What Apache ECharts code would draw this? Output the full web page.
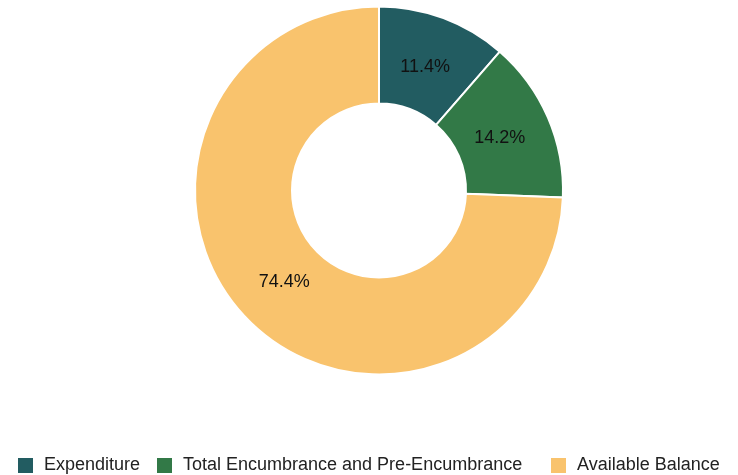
<!DOCTYPE html>
<html>
<head>
<meta charset="utf-8">
<script src="https://cdn.jsdelivr.net/npm/echarts@6/dist/echarts.min.js"></script>
<style>
  html, body { margin: 0; padding: 0; background: #fff; }
  #chart { width: 738px; height: 475px; }
</style>
</head>
<body>
<div id="chart"></div>
<script>
// Budget breakdown shown as shares of the total
const categories = ['Expenditure', 'Total Encumbrance and Pre-Encumbrance', 'Available Balance'];
const shares = [11.4, 14.2, 74.4];
const colors = ['#225c61', '#327947', '#f9c36d'];

const FONT = 'Liberation Sans, Arial, sans-serif';
const legendLefts = [16, 155, 549];
const CENTER = [379, 190.5];

const chart = echarts.init(document.getElementById('chart'));

const legends = categories.map((name, i) => ({
  data: [name],
  left: legendLefts[i],
  top: 456,
  orient: 'horizontal',
  icon: 'rect',
  itemWidth: 17,
  itemHeight: 17,
  itemGap: 0,
  padding: 0,
  textStyle: { fontFamily: FONT, fontSize: 18, color: '#222', padding: [0, 0, 0, 5] },
  selectedMode: false
}));

const pieData = categories.map((name, i) => ({ name, value: shares[i] }));

chart.setOption({
  animation: false,
  color: colors,
  legend: legends,
  series: [{
    // the donut ring itself
    type: 'pie',
    center: CENTER,
    radius: [87, 184],
    startAngle: 90,
    clockwise: true,
    itemStyle: { borderColor: '#ffffff', borderWidth: 2 },
    label: { show: false },
    labelLine: { show: false },
    emphasis: { disabled: true },
    data: pieData
  }, {
    // invisible ring carrying the percentage labels slightly inside the band's middle
    type: 'pie',
    center: CENTER,
    radius: [87, 170],
    startAngle: 90,
    clockwise: true,
    silent: true,
    avoidLabelOverlap: false,
    itemStyle: { color: 'rgba(0,0,0,0)' },
    label: {
      show: true,
      position: 'inside',
      formatter: p => p.value.toFixed(1) + '%',
      fontFamily: FONT,
      fontSize: 18,
      color: '#111'
    },
    labelLine: { show: false },
    emphasis: { disabled: true },
    data: pieData
  }]
});
</script>
</body>
</html>
